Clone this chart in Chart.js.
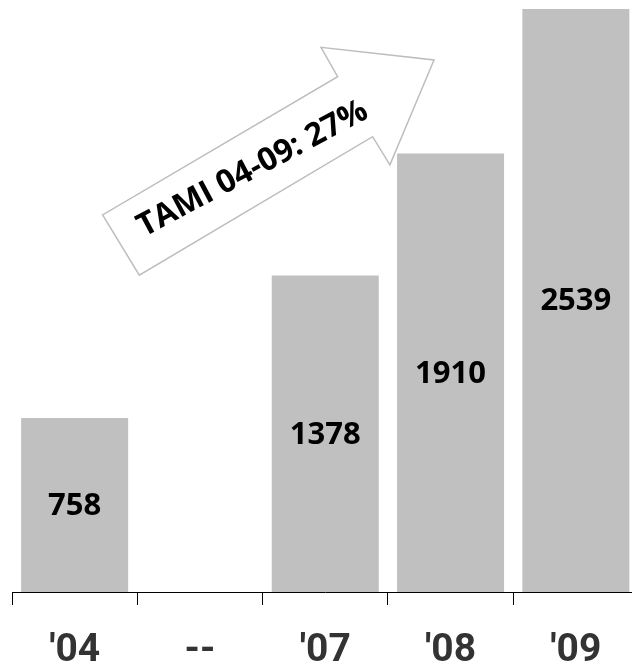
<!DOCTYPE html>
<html>
<head>
<meta charset="utf-8">
<script src="https://cdn.jsdelivr.net/npm/chart.js@4.4.0/dist/chart.umd.min.js"></script>
<style>
  html, body { margin: 0; padding: 0; background: #fff; overflow: hidden; }
  #wrap { width: 640px; height: 667px; }
</style>
</head>
<body>
<div id="wrap"><canvas id="myChart" width="640" height="667"></canvas></div>
<script>
//*** So lieu
const years = ["'04", "--", "'07", "'08", "'09"];
const values = [758, null, 1378, 1910, 2539];

// arrow annotation, in data units (x = category index, y = value)
const arrowX = [0.223, 0.516, 2.378, 2.516, 2.868, 1.966, 2.099];
const arrowY = [1642, 1380, 1983, 1860, 2317, 2372, 2244];
const arrowText = "TAMI 04-09: 27%";
const arrowTextPos = [1.455, 1807];

// ve nhan gia tri trong cot
const valueLabels = {
  id: "valueLabels",
  afterDatasetsDraw(chart) {
    const ctx = chart.ctx;
    const meta = chart.getDatasetMeta(0);
    ctx.save();
    ctx.font = "bold 31px 'Open Sans'";
    ctx.fillStyle = "#000";
    ctx.textAlign = "center";
    ctx.textBaseline = "middle";
    meta.data.forEach((bar, i) => {
      if (values[i] == null) return;
      const p = bar.getCenterPoint();
      ctx.fillText(String(values[i]), p.x, p.y + 1);
    });
    ctx.restore();
  },
};

// mui ten TAMI
const arrowPlugin = {
  id: "arrowPlugin",
  afterDatasetsDraw(chart) {
    const ctx = chart.ctx;
    const xs = chart.scales.x;
    const ys = chart.scales.y;
    ctx.save();
    ctx.beginPath();
    arrowX.forEach((v, i) => {
      const px = xs.getPixelForValue(v);
      const py = ys.getPixelForValue(arrowY[i]);
      if (i == 0) ctx.moveTo(px, py);
      else ctx.lineTo(px, py);
    });
    ctx.closePath();
    ctx.fillStyle = "#fff";
    ctx.fill();
    ctx.strokeStyle = "#bdbdbd";
    ctx.lineWidth = 1.5;
    ctx.stroke();

    const tx = xs.getPixelForValue(arrowTextPos[0]);
    const ty = ys.getPixelForValue(arrowTextPos[1]);
    ctx.translate(tx, ty);
    ctx.rotate((-28 * Math.PI) / 180);
    ctx.font = "bold 32px 'Open Sans'";
    ctx.fillStyle = "#000";
    ctx.textAlign = "center";
    ctx.textBaseline = "alphabetic";
    ctx.fillText(arrowText, 0, 0);
    ctx.restore();
  },
};

const config = {
  type: "bar",
  data: {
    labels: years,
    datasets: [
      {
        data: values,
        backgroundColor: "#c0c0c0",
        borderWidth: 0,
        barPercentage: 0.854,
        categoryPercentage: 1,
      },
    ],
  },
  options: {
    responsive: false,
    devicePixelRatio: 1,
    animation: false,
    layout: { padding: { top: 9, left: 12, right: 1.5, bottom: 0 } },
    plugins: { legend: { display: false }, tooltip: { enabled: false } },
    scales: {
      x: {
        afterFit: (scale) => {
          scale.height = 75;
        },
        grid: {
          drawOnChartArea: false,
          drawTicks: true,
          tickLength: 13,
          tickColor: "#000",
          tickWidth: 1,
        },
        border: { display: true, color: "#000", width: 1 },
        ticks: {
          color: "#333",
          padding: 26.5,
          font: { family: "Roboto", weight: "bold", size: 39, lineHeight: 1 },
        },
      },
      y: {
        display: false,
        min: 0,
        max: Math.max(...values.filter((v) => v != null)),
      },
    },
  },
  plugins: [valueLabels, arrowPlugin],
};

var myChart = new Chart(document.getElementById("myChart"), config);
</script>
</body>
</html>
